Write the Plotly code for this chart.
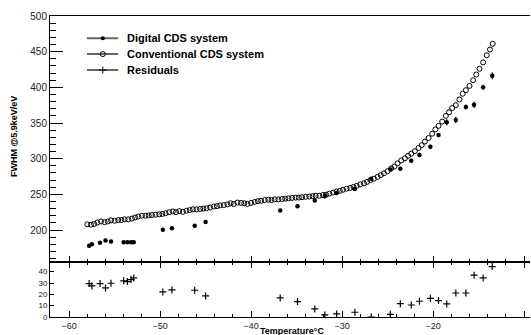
import plotly.graph_objects as go

# Conventional CDS system (open circles)
conv_T = [-58.0, -57.6, -57.25, -56.9, -56.5, -56.1, -55.75, -55.4, -55.0, -54.6,
          -54.25, -53.9, -53.5, -53.1, -52.75, -52.4, -52.0, -51.6, -51.25, -50.9,
          -50.5, -50.1, -49.75, -49.4, -49.0, -48.6, -48.25, -47.9, -47.5, -47.1,
          -46.75, -46.4, -46.0, -45.6, -45.25, -44.9, -44.5, -44.1, -43.75, -43.4,
          -43.0, -42.6, -42.25, -41.9, -41.5, -41.1, -40.75, -40.4, -40.0, -39.6,
          -39.25, -38.9, -38.5, -38.1, -37.75, -37.4, -37.0, -36.6, -36.25, -35.9,
          -35.5, -35.1, -34.75, -34.4, -34.0, -33.6, -33.25, -32.9, -32.5, -32.1,
          -31.75, -31.4, -31.0, -30.6, -30.25, -29.9, -29.5, -29.1, -28.75, -28.4,
          -28.0, -27.6, -27.25, -26.9, -26.5, -26.1, -25.75, -25.4, -25.0, -24.6,
          -24.25, -23.9, -23.5, -23.1, -22.75, -22.4, -22.0, -21.6, -21.25, -20.9,
          -20.5, -20.1, -19.75, -19.4, -19.0, -18.6, -18.25, -17.9, -17.5, -17.1,
          -16.75, -16.4, -16.0, -15.6, -15.25, -14.9, -14.5, -14.1, -13.75, -13.45]
conv_V = [208, 207.5, 208.5, 210.5, 212, 211, 212, 213.5, 213, 214,
          214, 215, 215, 216, 217.5, 219, 220, 220, 220.5, 221,
          221.5, 222, 222.5, 223.5, 225, 226, 225, 226.5, 225.5, 227,
          228, 229, 229, 229.5, 230, 230.5, 231.5, 233, 233.5, 234.5,
          235, 236, 237.5, 236.5, 238.5, 238, 237.5, 236.5, 238, 239.5,
          240.5, 241, 242, 242.5, 242, 243, 243, 243.5, 244, 244.5,
          245, 245.5, 245.5, 246, 246.5, 247, 247.5, 248, 248, 249,
          249.5, 251, 252.5, 254, 255, 256.5, 258, 259, 260.5, 262,
          264, 265.5, 267.5, 270, 272, 274.5, 277, 279.5, 282.5, 286.5,
          289, 293.5, 297.5, 300.5, 304, 307, 310.5, 315, 319, 324,
          329, 335, 341, 346, 352, 360, 365, 371, 375, 383,
          391, 396, 402, 410, 418, 426, 435, 445, 453, 461]

# Digital CDS system (filled circles) and residuals
dig_T = [-57.8, -57.5, -56.6, -56.0, -55.4, -54.0, -53.6, -53.2, -52.9,
         -49.7, -48.7, -46.2, -45.0,
         -36.8, -34.9, -33.0, -31.9, -30.6, -28.6, -26.8, -24.7, -23.6, -22.4,
         -21.5, -20.3, -19.4, -18.5, -17.5, -16.4, -15.5, -14.5, -13.5]
dig_V = [177.8, 180.2, 182, 185.4, 184, 183, 183, 183, 183,
         200.4, 202.4, 206.1, 211.3,
         227.3, 233.5, 241.5, 248.1, 252, 257.6, 271.8, 285, 286, 297,
         305.2, 316.6, 333.1, 351, 354.3, 372.3, 375.6, 400, 416.2]
dig_err = [1.5, 1.5, 1.5, 1.5, 1.5, 1.5, 1.5, 1.5, 1.5,
           2, 2, 2, 2,
           2, 2, 2, 4.5, 2, 2, 2.5, 2.5, 2.5, 3,
           3, 3, 3, 4.5, 4.5, 3.5, 4.5, 3.5, 5]
resid = [29.5, 27.4, 29.5, 25.7, 29.8, 31.9, 31.3, 33, 34.5,
         22.1, 23.9, 23.6, 18.6,
         16.8, 13.6, 7.1, 1.8, 2.7, 4.2, 0, 2.4, 11.8, 10.6,
         13.9, 16.5, 14.5, 11.5, 21.2, 21.2, 36.9, 34.5, 44.5]

legend_names = ["Digital CDS system", "Conventional CDS system", "Residuals"]
# legend layout in fractions of the upper panel (helper axes x3/y3 span 0..1)
leg_rows = [0.909, 0.845, 0.780]
leg_line = [0.077, 0.142]
leg_mark = 0.110
leg_text = 0.156

FONT = "Liberation Sans, Arial, sans-serif"

fig = go.Figure()

fig.add_trace(go.Scatter(x=conv_T, y=conv_V, mode="markers", showlegend=False,
                         marker=dict(symbol="circle-open", size=5, color="black",
                                     line=dict(width=1, color="black")),
                         xaxis="x", yaxis="y"))
fig.add_trace(go.Scatter(x=dig_T, y=dig_V, mode="markers", showlegend=False,
                         marker=dict(symbol="circle", size=4.5, color="black"),
                         error_y=dict(type="data", array=dig_err, width=0,
                                      thickness=1, color="black"),
                         xaxis="x", yaxis="y"))
fig.add_trace(go.Scatter(x=dig_T, y=resid, mode="markers", showlegend=False,
                         marker=dict(symbol="cross-thin", size=5, color="black",
                                     line=dict(width=1.2, color="black")),
                         xaxis="x2", yaxis="y2"))

# hand-built legend on helper axes
leg_markers = [dict(symbol="circle", size=4, color="black"),
               dict(symbol="circle-open", size=5, color="black", line=dict(width=1, color="black")),
               dict(symbol="cross-thin", size=5, color="black", line=dict(width=1, color="black"))]
annotations = []
for name, mk, ry in zip(legend_names, leg_markers, leg_rows):
    fig.add_trace(go.Scatter(x=leg_line, y=[ry, ry], mode="lines", showlegend=False,
                             line=dict(color="#666666", width=2),
                             xaxis="x3", yaxis="y3", hoverinfo="skip"))
    fig.add_trace(go.Scatter(x=[leg_mark], y=[ry], mode="markers", showlegend=False,
                             marker=mk, xaxis="x3", yaxis="y3", hoverinfo="skip"))
    annotations.append(dict(text="<b>%s</b>" % name, x=leg_text, y=ry, xref="x3", yref="y3",
                            xanchor="left", yanchor="middle", showarrow=False,
                            font=dict(family=FONT, size=11, color="black")))

annotations += [
    dict(text="<b>FWHM @5.9keV/eV</b>", textangle=-90, x=-0.075, y=0.598,
         xref="paper", yref="paper", xanchor="center", yanchor="middle",
         showarrow=False, font=dict(family=FONT, size=9, color="black")),
    dict(text="<b>Temperature°C</b>", x=0.504, y=-0.047,
         xref="paper", yref="paper", xanchor="center", yanchor="middle",
         showarrow=False, font=dict(family=FONT, size=9, color="black")),
]

split = 0.1837
axis_font = dict(family=FONT, size=10, color="#222")
fig.update_layout(
    width=531, height=335,
    margin=dict(l=50, r=1, t=16, b=18),
    paper_bgcolor="white", plot_bgcolor="white",
    showlegend=False,
    xaxis=dict(domain=[0, 1], range=[-62.1, -9.35], anchor="y",
               showline=True, linecolor="black", linewidth=1, mirror=True,
               ticks="inside", ticklen=6, tickcolor="black", dtick=10, tick0=-60,
               minor=dict(ticks="inside", ticklen=3, dtick=2, tickcolor="black"),
               showticklabels=False, showgrid=False, zeroline=False),
    yaxis=dict(domain=[split, 1], range=[155.6, 500], anchor="x",
               showline=True, linecolor="black", linewidth=1,
               ticks="inside", ticklen=13, tickcolor="black", dtick=50, tick0=0,
               minor=dict(ticks="inside", ticklen=6, dtick=10, tickcolor="black"),
               tickfont=axis_font, showgrid=False, zeroline=False),
    xaxis2=dict(domain=[0, 1], range=[-62.1, -9.35], anchor="y2",
                showline=True, linecolor="black", linewidth=1, mirror="ticks",
                ticks="inside", ticklen=6, tickcolor="black", dtick=10, tick0=-60,
                minor=dict(ticks="inside", ticklen=3, dtick=2, tickcolor="black"),
                tickfont=dict(family=FONT, size=9, color="#222"),
                showgrid=False, zeroline=False),
    yaxis2=dict(domain=[0, split], range=[0, 48.8], anchor="x2",
                showline=True, linecolor="black", linewidth=1,
                ticks="inside", ticklen=4, tickcolor="black", dtick=10, tick0=0,
                tickfont=dict(family=FONT, size=8, color="#222"),
                showgrid=False, zeroline=False),
    xaxis3=dict(overlaying="x", range=[0, 1], visible=False, anchor="y3"),
    yaxis3=dict(overlaying="y", range=[0, 1], visible=False, anchor="x3"),
    annotations=annotations,
)

fig.write_html("out.html")
